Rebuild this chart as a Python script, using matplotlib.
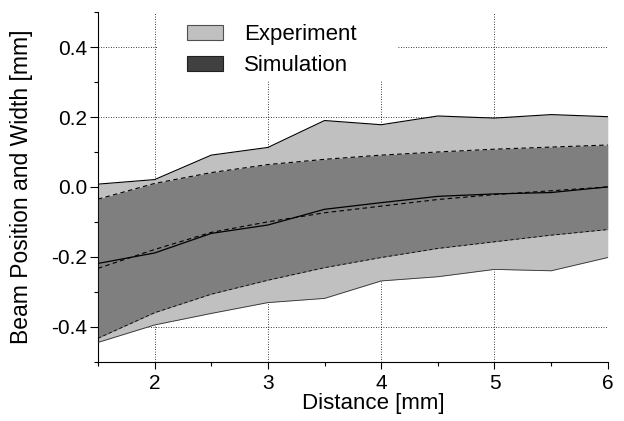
import matplotlib
matplotlib.use("Agg")
import matplotlib.pyplot as plt
from matplotlib.patches import Patch, Rectangle

plt.rcParams['font.family'] = ['Liberation Sans', 'DejaVu Sans']

distance = [1.5, 2.0, 2.5, 3.0, 3.5, 4.0, 4.5, 5.0, 5.5, 6.0]
exp_upper = [0.008, 0.021, 0.091, 0.113, 0.190, 0.178, 0.203, 0.197, 0.207, 0.201]
exp_center = [-0.219, -0.189, -0.133, -0.109, -0.064, -0.045, -0.027, -0.020, -0.016, 0.000]
exp_lower = [-0.445, -0.395, -0.362, -0.331, -0.319, -0.269, -0.257, -0.236, -0.240, -0.202]
sim_upper = [-0.035, 0.010, 0.041, 0.064, 0.079, 0.091, 0.100, 0.108, 0.114, 0.120]
sim_center = [-0.233, -0.179, -0.130, -0.100, -0.074, -0.055, -0.036, -0.022, -0.011, 0.000]
sim_lower = [-0.433, -0.360, -0.307, -0.267, -0.231, -0.202, -0.176, -0.157, -0.138, -0.122]
series_labels = ['Experiment', 'Simulation']

fig = plt.figure(figsize=(6.24, 4.21), dpi=100)
ax = fig.add_axes([0.157, 0.141, 0.817, 0.830])

ax.fill_between(distance, exp_lower, exp_upper, color='#c0c0c0', lw=0, zorder=2)
ax.fill_between(distance, sim_lower, sim_upper, color='#404040', alpha=0.5, lw=0, zorder=3)
ax.plot(distance, exp_upper, color='black', lw=0.8, zorder=4)
ax.plot(distance, exp_lower, color='#303030', lw=0.6, zorder=4)
ax.plot(distance, exp_center, color='black', lw=0.9, zorder=4)
ax.plot(distance, sim_upper, color='black', lw=0.8, ls=(0, (4, 3)), zorder=4)
ax.plot(distance, sim_lower, color='black', lw=0.6, ls=(0, (4, 3)), zorder=4)
ax.plot(distance, sim_center, color='black', lw=0.8, ls=(0, (4, 3)), zorder=4)

ax.set_xlim(1.5, 6)
ax.set_ylim(-0.5, 0.5)
ax.set_xticks([2, 3, 4, 5, 6])
ax.set_xticks([1.5, 2.5, 3.5, 4.5, 5.5], minor=True)
ax.set_yticks([-0.4, -0.2, 0.0, 0.2, 0.4])
ax.set_yticks([-0.5, -0.3, -0.1, 0.1, 0.3, 0.5], minor=True)
ax.set_yticklabels(['-0.4', '-0.2', '0.0', '0.2', '0.4'])
ax.grid(True, which='major', color='black', ls=(0, (1, 2)), lw=0.6, zorder=1)
ax.set_axisbelow(True)

for s in ['top', 'right']:
    ax.spines[s].set_visible(False)
for s in ['left', 'bottom']:
    ax.spines[s].set_linewidth(0.8)
ax.tick_params(which='both', direction='out', width=0.8, labelsize=15)
ax.tick_params(axis='y', which='major', length=5.8, pad=2)
ax.tick_params(axis='y', which='minor', length=3)
ax.tick_params(axis='x', which='major', length=5.2, pad=4)
ax.tick_params(axis='x', which='minor', length=3)

ax.set_xlabel('Distance [mm]', fontsize=16, labelpad=0, x=0.541)
ax.set_ylabel('Beam Position and Width [mm]', fontsize=16.5, labelpad=13)

# white background behind legend (hides the grid there)
ax.add_patch(Rectangle((0.1157, 0.8055), 0.47, 0.2, transform=ax.transAxes,
                       facecolor='white', edgecolor='none', zorder=4.5, clip_on=False))

handles = [Patch(facecolor='#c0c0c0', edgecolor='#505050', lw=0.8, label=series_labels[0]),
           Patch(facecolor='#404040', edgecolor='#202020', lw=0.8, label=series_labels[1])]
leg = ax.legend(handles=handles, loc='upper left', bbox_to_anchor=(0.1745, 0.965),
                frameon=False, fontsize=16, handlelength=1.62,
                handleheight=0.68, handletextpad=0.95, labelspacing=0.43,
                borderpad=0, borderaxespad=0)
leg.set_zorder(5)

fig.savefig('out.png', dpi=100)
